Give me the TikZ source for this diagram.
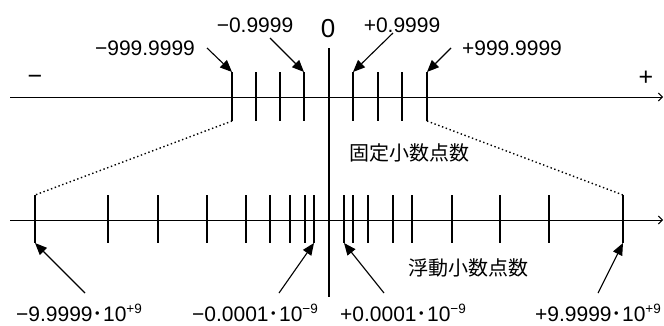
\documentclass[tikz,border=0pt]{standalone}
\usepackage{fontspec}
\setmainfont{Liberation Sans}
\newfontfamily\cjk{Noto Sans CJK JP}
\usetikzlibrary{arrows.meta}
% raised exponent and the half-width middle dot used in the scientific values
\newcommand\expo[1]{\raisebox{7.5pt}{\fontsize{13.5}{13.5}\selectfont #1}}
\newcommand\mdot{{\cjk ･}}

\begin{document}
\begin{tikzpicture}[x=1pt,y=-1pt,
  axisline/.style={line width=1pt,-{Straight Barb[length=4pt,width=8pt]}},
  tickmark/.style={line width=1.1pt},
  pointer/.style={line width=1.1pt,-{Triangle[length=12pt,width=10pt]}},
  guide/.style={line width=1.4pt,dash pattern=on 1.4pt off 2.6pt},
  numlabel/.style={inner sep=0pt,anchor=base,font=\fontsize{21}{21}\selectfont},
  signlabel/.style={inner sep=0pt,anchor=base,font=\fontsize{25}{25}\selectfont},
  kind/.style={inner sep=0pt,font=\cjk\fontsize{20}{20}\selectfont}]
\useasboundingbox (0,0) rectangle (664,325);

% number lines
\coordinate (fa0) at (10,97);  \coordinate (fa1) at (663,97);
\coordinate (ga0) at (10,220); \coordinate (ga1) at (663,220);
\draw[axisline] (fa0) -- (fa1);
\draw[axisline] (ga0) -- (ga1);

% zero line
\coordinate (z0) at (329,48); \coordinate (z1) at (329,297);
\draw[tickmark] (z0) -- (z1);

% fixed-point ticks
\foreach \x [count=\i] in {232,256,280,304,353,378,402,427} {
  \coordinate (ft\i-top) at (\x,72);
  \coordinate (ft\i-bot) at (\x,121);
  \draw[tickmark] (ft\i-top) -- (ft\i-bot);
}

% floating-point ticks
\foreach \x [count=\i] in {35,108,158,207,246,270,290,305,314,344,353,368,393,412,452,500,549,623} {
  \coordinate (gt\i-top) at (\x,195);
  \coordinate (gt\i-bot) at (\x,243);
  \draw[tickmark] (gt\i-top) -- (gt\i-bot);
}

% range correspondence
\draw[guide] (ft1-bot) -- (gt1-top);
\draw[guide] (ft8-bot) -- (gt18-top);

% signs and zero
\node[signlabel] (neg) at (35,84) {−};
\node[signlabel] (pos) at (646,85) {+};
\node[inner sep=0pt,anchor=base,font=\fontsize{26}{26}\selectfont] (zero) at (328,37) {0};

% fixed-point limits
\node[numlabel] (fmax-neg) at (145,55) {−999.9999};
\node[numlabel] (fmin-neg) at (255,32) {−0.9999};
\node[numlabel] (fmin-pos) at (402,32) {+0.9999};
\node[numlabel] (fmax-pos) at (512,55) {+999.9999};

\coordinate (fp1) at (207,48);
\coordinate (fp2) at (270,38);
\coordinate (fp3) at (393,33);
\coordinate (fp4) at (451,48);
\draw[pointer] (fp1) -- (ft1-top);
\draw[pointer] (fp2) -- (ft4-top);
\draw[pointer] (fp3) -- (ft5-top);
\draw[pointer] (fp4) -- (ft8-top);

% floating-point limits
\node[numlabel] (gmax-neg) at (79,321) {−9.9999\mdot 10\expo{+9}};
\node[numlabel] (gmin-neg) at (255,321) {−0.0001\mdot 10\expo{−9}};
\node[numlabel] (gmin-pos) at (403,321) {+0.0001\mdot 10\expo{−9}};
\node[numlabel] (gmax-pos) at (598,321) {+9.9999\mdot 10\expo{+9}};

\coordinate (gp1) at (85,293);
\coordinate (gp2) at (279,293);
\coordinate (gp3) at (384,293);
\coordinate (gp4) at (598,293);
\draw[pointer] (gp1) -- (gt1-bot);
\draw[pointer] (gp2) -- (gt9-bot);
\draw[pointer] (gp3) -- (gt10-bot);
\draw[pointer] (gp4) -- (gt18-bot);

% number kinds
\node[kind] (fixed) at (409,153) {固定小数点数};
\node[kind] (float) at (468,268) {浮動小数点数};
\end{tikzpicture}
\end{document}
